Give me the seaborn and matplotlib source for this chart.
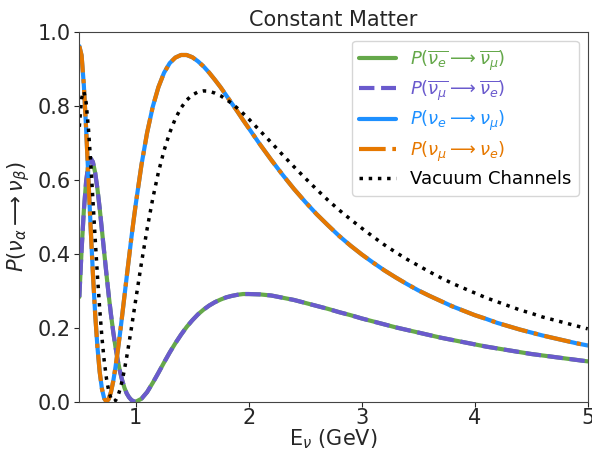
import matplotlib
matplotlib.use("Agg")
import matplotlib.pyplot as plt
import seaborn as sns

# Neutrino energy (GeV)
energy = [0.50, 0.52, 0.54, 0.56, 0.58, 0.60, 0.62, 0.64, 0.66, 0.68,
          0.70, 0.72, 0.74, 0.76, 0.78, 0.80, 0.82, 0.84, 0.86, 0.88,
          0.90, 0.92, 0.94, 0.96, 0.98, 1.00,
          1.05, 1.10, 1.15, 1.20, 1.25, 1.30, 1.35, 1.40, 1.45, 1.50,
          1.55, 1.60, 1.65, 1.70, 1.75, 1.80, 1.85, 1.90, 1.95, 2.00,
          2.1, 2.2, 2.3, 2.4, 2.5, 2.6, 2.7, 2.8, 2.9, 3.0,
          3.1, 3.2, 3.3, 3.4, 3.5, 3.6, 3.7, 3.8, 3.9, 4.0,
          4.1, 4.2, 4.3, 4.4, 4.5, 4.6, 4.7, 4.8, 4.9, 5.0]

# Neutrino appearance in matter: P(nu_e -> nu_mu) = P(nu_mu -> nu_e)
p_nu = [0.961, 0.936, 0.855, 0.739, 0.606, 0.472, 0.347, 0.238, 0.149, 0.081,
        0.035, 0.009, 0.000, 0.007, 0.026, 0.055, 0.093, 0.137, 0.184, 0.235,
        0.287, 0.339, 0.390, 0.441, 0.489, 0.535,
        0.640, 0.727, 0.797, 0.850, 0.889, 0.915, 0.930, 0.937, 0.937, 0.931,
        0.920, 0.906, 0.889, 0.870, 0.850, 0.828, 0.806, 0.784, 0.761, 0.739,
        0.695, 0.653, 0.613, 0.575, 0.540, 0.507, 0.477, 0.448, 0.422, 0.398,
        0.376, 0.355, 0.336, 0.318, 0.301, 0.286, 0.272, 0.258, 0.246, 0.234,
        0.224, 0.213, 0.204, 0.195, 0.187, 0.179, 0.172, 0.165, 0.158, 0.152]

# Antineutrino appearance in matter: P(anti-nu_e -> anti-nu_mu) = P(anti-nu_mu -> anti-nu_e)
p_antinu = [0.283, 0.410, 0.517, 0.595, 0.641, 0.658, 0.648, 0.619, 0.576, 0.523,
            0.464, 0.404, 0.345, 0.288, 0.236, 0.189, 0.148, 0.112, 0.082, 0.057,
            0.037, 0.022, 0.012, 0.005, 0.001, 0.000,
            0.008, 0.026, 0.051, 0.078, 0.106, 0.133, 0.158, 0.181, 0.202, 0.220,
            0.236, 0.249, 0.260, 0.269, 0.276, 0.282, 0.286, 0.289, 0.291, 0.291,
            0.290, 0.287, 0.281, 0.275, 0.267, 0.259, 0.251, 0.242, 0.234, 0.225,
            0.217, 0.209, 0.201, 0.194, 0.187, 0.180, 0.173, 0.167, 0.161, 0.155,
            0.149, 0.144, 0.139, 0.134, 0.129, 0.125, 0.121, 0.117, 0.113, 0.109]

# Vacuum channels
p_vacuum = [0.743, 0.820, 0.839, 0.809, 0.741, 0.650, 0.547, 0.442, 0.342, 0.252,
            0.174, 0.111, 0.063, 0.029, 0.009, 0.000, 0.003, 0.014, 0.033, 0.058,
            0.088, 0.122, 0.159, 0.197, 0.237, 0.277,
            0.375, 0.467, 0.549, 0.620, 0.679, 0.727, 0.765, 0.794, 0.815, 0.829,
            0.837, 0.840, 0.839, 0.834, 0.827, 0.817, 0.806, 0.793, 0.779, 0.764,
            0.732, 0.700, 0.667, 0.635, 0.604, 0.574, 0.545, 0.518, 0.493, 0.469,
            0.446, 0.424, 0.404, 0.385, 0.368, 0.351, 0.335, 0.320, 0.307, 0.294,
            0.281, 0.270, 0.259, 0.248, 0.239, 0.229, 0.221, 0.213, 0.205, 0.197]

labels = [r"$P(\overline{\nu_e} \longrightarrow \overline{\nu_\mu})$",
          r"$P(\overline{\nu_\mu} \longrightarrow \overline{\nu_e})$",
          r"$P(\nu_e \longrightarrow \nu_\mu)$",
          r"$P(\nu_\mu \longrightarrow \nu_e)$",
          "Vacuum Channels"]
x_ticks = [1, 2, 3, 4, 5]
y_ticks = [0.0, 0.2, 0.4, 0.6, 0.8, 1.0]

sns.set_style("ticks")
plt.rcParams['font.family'] = ['DejaVu Sans']
plt.rcParams['xtick.major.size'] = 3.5
plt.rcParams['ytick.major.size'] = 3.5
plt.rcParams['axes.edgecolor'] = '#444444'

fig, ax = plt.subplots(figsize=(5.92, 4.5), dpi=100)
fig.subplots_adjust(left=0.134, right=0.9927, bottom=0.1073, top=0.9296)

lw = 3
sns.lineplot(x=energy, y=p_antinu, ax=ax, color="#65a84a", lw=lw, linestyle="-", label=labels[0])
sns.lineplot(x=energy, y=p_antinu, ax=ax, color="#6a5acd", lw=lw, linestyle="--", label=labels[1])
sns.lineplot(x=energy, y=p_nu, ax=ax, color="#1e90ff", lw=lw, linestyle="-", label=labels[2])
sns.lineplot(x=energy, y=p_nu, ax=ax, color="#e67800", lw=lw, linestyle="-.", label=labels[3])
sns.lineplot(x=energy, y=p_vacuum, ax=ax, color="black", lw=2.5, linestyle=":", label=labels[4])

ax.set_xlim(0.5, 5)
ax.set_ylim(0, 1)
ax.set_xticks(x_ticks)
ax.set_yticks(y_ticks)
ax.tick_params(labelsize=15)
ax.tick_params(axis="x", pad=1)
ax.tick_params(axis="y", pad=2.5)
ax.set_xlabel(r"E$_\nu$ (GeV)", fontsize=15, labelpad=-0.5)
ax.set_ylabel(r"$P(\nu_\alpha \longrightarrow \nu_\beta)$", fontsize=15)
ax.set_title("Constant Matter", fontsize=15, pad=4)
ax.legend(loc="upper right", fontsize=13, labelcolor="linecolor", labelspacing=0.36)

fig.savefig("out.png", dpi=100)
